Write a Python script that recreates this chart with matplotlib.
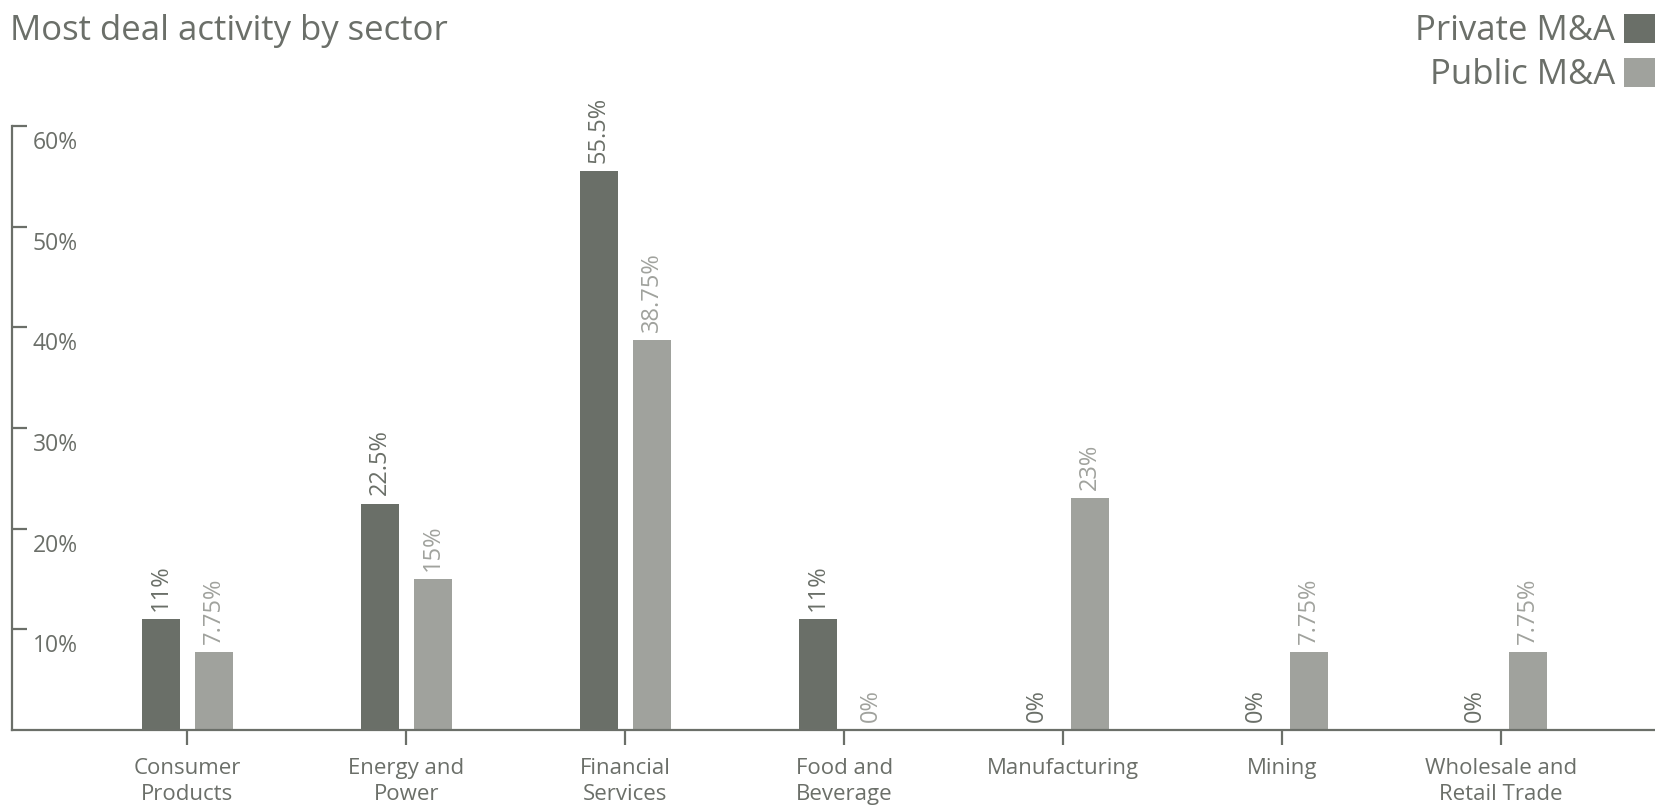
import matplotlib
matplotlib.use("Agg")
import matplotlib.pyplot as plt
import numpy as np

# Share of deals per sector (%)
categories = ["Consumer\nProducts", "Energy and\nPower", "Financial\nServices",
              "Food and\nBeverage", "Manufacturing", "Mining",
              "Wholesale and\nRetail Trade"]
private_ma = [11, 22.5, 55.5, 11, 0, 0, 0]
public_ma = [7.75, 15, 38.75, 0, 23, 7.75, 7.75]
series_names = ["Private M&A", "Public M&A"]
y_ticks = [10, 20, 30, 40, 50, 60]

DARK = "#6a6f68"
LIGHT = "#a0a29d"
TEXT = "#6b6f69"

plt.rcParams["font.family"] = ["Open Sans", "DejaVu Sans"]

fig = plt.figure(figsize=(16.55, 8.06), dpi=100)
ax = fig.add_axes([12 / 1655, (806 - 730) / 806, 1 - 12 / 1655, (730 - 126) / 806])

x = np.arange(len(categories))
width = 0.1735
offset = 0.121

bars_priv = ax.bar(x - offset, private_ma, width, color=DARK, label=series_names[0])
bars_pub = ax.bar(x + offset, public_ma, width, color=LIGHT, label=series_names[1])

def fmt(v):
    return f"{v:g}%"

for bars, vals, col in ((bars_priv, private_ma, DARK), (bars_pub, public_ma, LIGHT)):
    for b, v in zip(bars, vals):
        ax.annotate(fmt(v), xy=(b.get_x() + b.get_width() / 2, v),
                    xytext=(0, 6), textcoords="offset points",
                    rotation=90, ha="center", va="bottom",
                    fontsize=17, color=col)

ax.set_xlim(-0.8, len(categories) - 1 + 0.703)
ax.set_ylim(0, 60)

for side in ("top", "right"):
    ax.spines[side].set_visible(False)
for side in ("left", "bottom"):
    ax.spines[side].set_color(TEXT)
    ax.spines[side].set_linewidth(1.6)

ax.set_xticks(x)
ax.set_xticklabels(categories, fontsize=16, color=TEXT, linespacing=1.3)
ax.tick_params(axis="x", direction="out", length=11, width=1.6, color=TEXT, pad=9)

ax.set_yticks(y_ticks)
ax.set_yticklabels([])
ax.tick_params(axis="y", direction="in", length=11, width=1.6, color=TEXT)
for t in y_ticks:
    ax.annotate(f"{t}%", xy=(0, t), xycoords=("axes fraction", "data"),
                xytext=(15, -3.5), textcoords="offset points",
                ha="left", va="top", fontsize=16.5, color=TEXT)

fig.text(10 / 1655, 1 - 31 / 806, "Most deal activity by sector",
         fontsize=25, color=TEXT, ha="left", va="center")

leg = fig.legend(handles=[bars_priv, bars_pub], labels=series_names,
                 loc="upper right", bbox_to_anchor=(1.0, 1 - 14 / 806),
                 markerfirst=False, frameon=False, fontsize=25,
                 handlelength=0.9, handleheight=0.9, handletextpad=0.25,
                 labelspacing=0.27, borderpad=0, borderaxespad=0)
for txt in leg.get_texts():
    txt.set_color(TEXT)

fig.savefig("out.png", dpi=100)
